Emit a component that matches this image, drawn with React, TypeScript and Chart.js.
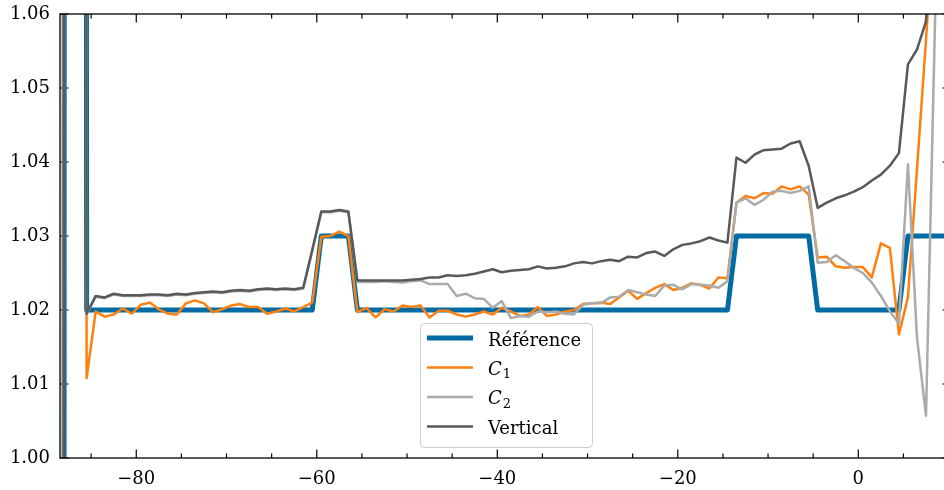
import React, { useEffect, useRef } from "react";
import { Chart, registerables } from "chart.js";

Chart.register(...registerables);

const FONT = '"DejaVu Serif", "Liberation Serif", serif';

const xValues = [
  -88.5, -87.5, -86.5, -85.5, -84.5, -83.5, -82.5, -81.5, -80.5, -79.5,
  -78.5, -77.5, -76.5, -75.5, -74.5, -73.5, -72.5, -71.5, -70.5, -69.5,
  -68.5, -67.5, -66.5, -65.5, -64.5, -63.5, -62.5, -61.5, -60.5, -59.5,
  -58.5, -57.5, -56.5, -55.5, -54.5, -53.5, -52.5, -51.5, -50.5, -49.5,
  -48.5, -47.5, -46.5, -45.5, -44.5, -43.5, -42.5, -41.5, -40.5, -39.5,
  -38.5, -37.5, -36.5, -35.5, -34.5, -33.5, -32.5, -31.5, -30.5, -29.5,
  -28.5, -27.5, -26.5, -25.5, -24.5, -23.5, -22.5, -21.5, -20.5, -19.5,
  -18.5, -17.5, -16.5, -15.5, -14.5, -13.5, -12.5, -11.5, -10.5, -9.5,
  -8.5, -7.5, -6.5, -5.5, -4.5, -3.5, -2.5, -1.5, -0.5, 0.5,
  1.5, 2.5, 3.5, 4.5, 5.5, 6.5, 7.5, 8.5, 9.5, 10.5,
];

const reference = [
  -1, 3, 3, 1.02, 1.02, 1.02, 1.02, 1.02, 1.02, 1.02,
  1.02, 1.02, 1.02, 1.02, 1.02, 1.02, 1.02, 1.02, 1.02, 1.02,
  1.02, 1.02, 1.02, 1.02, 1.02, 1.02, 1.02, 1.02, 1.02, 1.03,
  1.03, 1.03, 1.03, 1.02, 1.02, 1.02, 1.02, 1.02, 1.02, 1.02,
  1.02, 1.02, 1.02, 1.02, 1.02, 1.02, 1.02, 1.02, 1.02, 1.02,
  1.02, 1.02, 1.02, 1.02, 1.02, 1.02, 1.02, 1.02, 1.02, 1.02,
  1.02, 1.02, 1.02, 1.02, 1.02, 1.02, 1.02, 1.02, 1.02, 1.02,
  1.02, 1.02, 1.02, 1.02, 1.02, 1.03, 1.03, 1.03, 1.03, 1.03,
  1.03, 1.03, 1.03, 1.03, 1.02, 1.02, 1.02, 1.02, 1.02, 1.02,
  1.02, 1.02, 1.02, 1.02, 1.03, 1.03, 1.03, 1.03, 1.03, 1.03,
];

const c1 = [
  -0.5, 3, 3, 1.0108, 1.0198, 1.0191, 1.0194, 1.0202, 1.0195, 1.0207,
  1.021, 1.0201, 1.0195, 1.0194, 1.0209, 1.0213, 1.0209, 1.0197, 1.0201, 1.0206,
  1.0208, 1.0204, 1.0204, 1.0195, 1.0198, 1.0202, 1.0198, 1.0204, 1.021, 1.0299,
  1.03, 1.0306, 1.03, 1.0197, 1.0203, 1.019, 1.0201, 1.0198, 1.0206, 1.0204,
  1.0206, 1.019, 1.0199, 1.0199, 1.0194, 1.0191, 1.0194, 1.0198, 1.0194, 1.0203,
  1.0198, 1.0192, 1.0194, 1.0204, 1.0192, 1.0194, 1.0198, 1.02, 1.0208, 1.0209,
  1.021, 1.0208, 1.0217, 1.0226, 1.0215, 1.0223, 1.023, 1.0235, 1.0227, 1.023,
  1.0236, 1.0234, 1.0229, 1.0244, 1.0243, 1.0345, 1.0354, 1.0351, 1.0358, 1.0357,
  1.0367, 1.0363, 1.0367, 1.0356, 1.0271, 1.0272, 1.0259, 1.0257, 1.0258, 1.0258,
  1.0244, 1.029, 1.0284, 1.0167, 1.0217, 1.039, 1.0565, 1.075, 1.095, 1.11,
];

const c2 = [
  -0.8, 3, 3, 1.0194, 1.0218, 1.0216, 1.0221, 1.0219, 1.0219, 1.0219,
  1.022, 1.022, 1.0219, 1.0221, 1.022, 1.0222, 1.0223, 1.0224, 1.0223, 1.0225,
  1.0226, 1.0225, 1.0227, 1.0228, 1.0227, 1.0228, 1.0227, 1.0229, 1.028, 1.0332,
  1.0332, 1.0334, 1.0332, 1.0238, 1.0238, 1.0238, 1.0239, 1.0238, 1.0237, 1.0239,
  1.024, 1.0235, 1.0235, 1.0235, 1.0219, 1.0222, 1.0216, 1.0215, 1.0203, 1.0212,
  1.0189, 1.0192, 1.0191, 1.0198, 1.0197, 1.0198, 1.0195, 1.0194, 1.0207, 1.0209,
  1.0209, 1.0217, 1.0218, 1.0227, 1.0224, 1.0221, 1.0219, 1.0233, 1.0234, 1.0228,
  1.0235, 1.0234, 1.0233, 1.023, 1.0239, 1.0345, 1.0351, 1.0342, 1.0349, 1.036,
  1.0361, 1.0358, 1.0361, 1.0367, 1.0264, 1.0265, 1.0274, 1.0266, 1.0257, 1.025,
  1.0237, 1.0219, 1.0198, 1.0182, 1.0397, 1.0163, 1.0057, 1.059, 1.12, 1.15,
];

const vertical = [
  -0.8, 3, 3, 1.0195, 1.0219, 1.0217, 1.0222, 1.022, 1.022, 1.022,
  1.0221, 1.0221, 1.022, 1.0222, 1.0221, 1.0223, 1.0224, 1.0225, 1.0224, 1.0226,
  1.0227, 1.0226, 1.0228, 1.0229, 1.0228, 1.0229, 1.0228, 1.023, 1.0281, 1.0333,
  1.0333, 1.0335, 1.0333, 1.024, 1.024, 1.024, 1.024, 1.024, 1.024, 1.0241,
  1.0242, 1.0244, 1.0244, 1.0247, 1.0246, 1.0247, 1.0249, 1.0252, 1.0255, 1.0251,
  1.0253, 1.0254, 1.0255, 1.0259, 1.0256, 1.0257, 1.0259, 1.0263, 1.0265, 1.0263,
  1.0266, 1.0268, 1.0266, 1.0272, 1.0271, 1.0277, 1.0279, 1.0273, 1.0282, 1.0288,
  1.029, 1.0293, 1.0298, 1.0294, 1.0291, 1.0406, 1.0399, 1.041, 1.0416, 1.0417,
  1.0418, 1.0425, 1.0428, 1.0395, 1.0338, 1.0345, 1.0351, 1.0355, 1.036, 1.0366,
  1.0375, 1.0383, 1.0395, 1.0412, 1.0532, 1.0552, 1.059, 1.08, 1.1, 1.12,
];

const xMajorTicks = [-80, -60, -40, -20, 0];
const xMinorTicks = [-85, -75, -70, -65, -55, -50, -45, -35, -30, -25, -15, -10, -5, 5, 10];
const yTicks = [1.0, 1.01, 1.02, 1.03, 1.04, 1.05, 1.06];

const seriesNames = ["Référence", "C1", "C2", "Vertical"];
const seriesColors = ["#006BA4", "#FF800E", "#ABABAB", "#595959"];
const seriesWidths = [5, 2.5, 2.5, 2.5];

export default function App() {
  const ref = useRef<HTMLCanvasElement>(null);

  useEffect(() => {
    const canvas = ref.current;
    if (!canvas) return;
    const allSeries = [reference, c1, c2, vertical];
    const datasets = allSeries.map((vals, k) => ({
      label: seriesNames[k],
      data: xValues.map((x, i) => ({ x, y: vals[i] })),
      borderColor: seriesColors[k],
      backgroundColor: seriesColors[k],
      borderWidth: seriesWidths[k],
      pointRadius: 0,
      tension: 0,
      fill: false,
      clip: 0,
      order: 4 - k,
      borderJoinStyle: "round" as const,
      borderCapStyle: "butt" as const,
    }));

    const axesPlugin = {
      id: "mplAxes",
      beforeDatasetsDraw(chart: any) {
        const { ctx, chartArea: a, scales } = chart;
        const xs = scales.x;
        const ys = scales.y;
        ctx.save();
        ctx.strokeStyle = "#000";
        ctx.lineWidth = 1.2;
        ctx.beginPath();
        const maj = 8.5;
        const min = 4.5;
        for (const v of xMajorTicks) {
          const p = xs.getPixelForValue(v);
          ctx.moveTo(p, a.bottom);
          ctx.lineTo(p, a.bottom - maj);
          ctx.moveTo(p, a.top);
          ctx.lineTo(p, a.top + maj);
        }
        for (const v of xMinorTicks) {
          const p = xs.getPixelForValue(v);
          ctx.moveTo(p, a.bottom);
          ctx.lineTo(p, a.bottom - min);
          ctx.moveTo(p, a.top);
          ctx.lineTo(p, a.top + min);
        }
        for (const v of yTicks) {
          const p = ys.getPixelForValue(v);
          ctx.moveTo(a.left, p);
          ctx.lineTo(a.left + maj, p);
          ctx.moveTo(a.right, p);
          ctx.lineTo(a.right - maj, p);
        }
        ctx.stroke();
        ctx.restore();
      },
      afterDatasetsDraw(chart: any) {
        const { ctx, chartArea: a } = chart;
        ctx.save();
        ctx.strokeStyle = "#000";
        ctx.lineWidth = 1.3;
        ctx.strokeRect(a.left, a.top, a.right - a.left, a.bottom - a.top);
        ctx.restore();
      },
      afterDraw(chart: any) {
        const { ctx } = chart;
        ctx.save();
        const bx = 420.5, by = 323.5, bw = 172, bh = 124, r = 4;
        ctx.beginPath();
        ctx.moveTo(bx + r, by);
        ctx.lineTo(bx + bw - r, by);
        ctx.arcTo(bx + bw, by, bx + bw, by + r, r);
        ctx.lineTo(bx + bw, by + bh - r);
        ctx.arcTo(bx + bw, by + bh, bx + bw - r, by + bh, r);
        ctx.lineTo(bx + r, by + bh);
        ctx.arcTo(bx, by + bh, bx, by + bh - r, r);
        ctx.lineTo(bx, by + r);
        ctx.arcTo(bx, by, bx + r, by, r);
        ctx.closePath();
        ctx.fillStyle = "rgba(255,255,255,0.85)";
        ctx.fill();
        ctx.strokeStyle = "#cccccc";
        ctx.lineWidth = 1;
        ctx.stroke();

        const rows = [338, 367.5, 397, 426.5];
        for (let k = 0; k < 4; k++) {
          const y = rows[k];
          ctx.beginPath();
          ctx.strokeStyle = seriesColors[k];
          ctx.lineWidth = seriesWidths[k];
          ctx.lineCap = "butt";
          ctx.moveTo(427, y);
          ctx.lineTo(473, y);
          ctx.stroke();
          ctx.fillStyle = "#000";
          ctx.textBaseline = "alphabetic";
          ctx.textAlign = "left";
          const name = seriesNames[k];
          if (name === "C1" || name === "C2") {
            ctx.font = `italic 18px ${FONT}`;
            ctx.fillText("C", 488, y + 7);
            const w = ctx.measureText("C").width;
            ctx.font = `13px ${FONT}`;
            ctx.fillText(name.slice(1), 488 + w + 1, y + 10.5);
          } else {
            ctx.font = `18px ${FONT}`;
            ctx.fillText(name, 488, y + 7.5);
          }
        }
        ctx.restore();
      },
    };

    const chart = new Chart(canvas, {
      type: "line",
      data: { datasets },
      options: {
        animation: false,
        responsive: false,
        devicePixelRatio: 1,
        layout: { padding: { top: 14, right: 9, left: 0, bottom: 0 } },
        plugins: {
          legend: { display: false },
          tooltip: { enabled: false },
        },
        scales: {
          x: {
            type: "linear",
            min: -88.45,
            max: 10.27,
            grid: { display: false, drawTicks: false },
            border: { display: false },
            afterBuildTicks: (s: any) => {
              s.ticks = xMajorTicks.map((v) => ({ value: v }));
            },
            afterFit: (s: any) => {
              s.height = 32;
              s.paddingLeft = 0;
              s.paddingRight = 0;
              s.paddingTop = 0;
              s.paddingBottom = 0;
            },
            ticks: {
              padding: 11,
              color: "#000",
              font: { family: FONT, size: 18 },
              maxRotation: 0,
              autoSkip: false,
              callback: (v: any) => (Number(v) < 0 ? "\u2212" + Math.abs(Number(v)) : String(v)),
            },
          },
          y: {
            type: "linear",
            min: 1.0,
            max: 1.06,
            grid: { display: false, drawTicks: false },
            border: { display: false },
            afterBuildTicks: (s: any) => {
              s.ticks = yTicks.map((v) => ({ value: v }));
            },
            afterFit: (s: any) => {
              s.width = 60;
              s.paddingTop = 0;
              s.paddingBottom = 0;
              s.paddingLeft = 0;
              s.paddingRight = 0;
            },
            ticks: {
              padding: 10,
              color: "#000",
              font: { family: FONT, size: 18 },
              autoSkip: false,
              callback: (v: any) => Number(v).toFixed(2),
            },
          },
        },
      },
      plugins: [axesPlugin],
    });

    return () => chart.destroy();
  }, []);

  return (
    <div
      style={{
        position: "fixed",
        left: 0,
        top: 0,
        width: 944,
        height: 490,
        overflow: "hidden",
        background: "#fff",
      }}
    >
      <canvas ref={ref} width={960} height={490} style={{ display: "block" }} />
    </div>
  );
}
